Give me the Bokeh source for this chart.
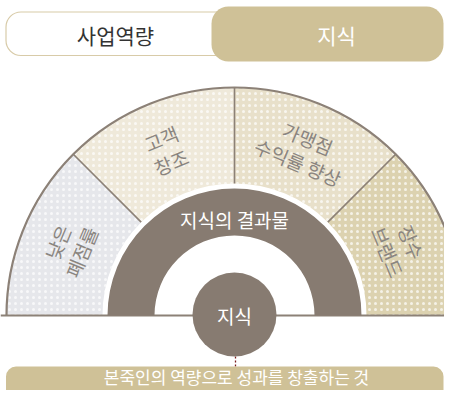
import numpy as np
from bokeh.plotting import figure
from bokeh.models import Range1d
from bokeh.core.properties import value
from bokeh.embed import file_html
from bokeh.resources import INLINE

# ---- data ----
tabs = ["사업역량", "지식"]
segments = ["낮은\n폐점률", "고객\n창조", "가맹점\n수익률 향상", "장수\n브랜드"]
ring_label = "지식의 결과물"
core_label = "지식"
definition = "본죽인의 역량으로 성과를 창출하는 것"

# ---- styles ----
FONT = value("Noto Sans CJK KR")
GOLD = "#cfc197"
SEG_COLORS = ["#e6e7eb", "#efe9da", "#e8e0ca", "#dcd2b0"]
EDGE = "#8c8177"
DARK = "#877b71"
LABEL = "#8a8580"

W, H = 444, 390
p = figure(width=W, height=H, output_backend="svg", toolbar_location=None,
           x_range=Range1d(0, W), y_range=Range1d(0, H), min_border=0)
p.axis.visible = False
p.grid.visible = False
p.outline_line_color = None
p.background_fill_color = "white"


def sy(y):
    return H - y


# ---- tabs ----
p.quad(left=5.5, right=236, top=sy(11.5), bottom=sy(55), fill_color="white",
       line_color="#d8cba8", line_width=1.2, border_radius=15)
p.quad(left=211, right=443, top=sy(6), bottom=sy(61), fill_color=GOLD,
       line_color=None, border_radius=17)
p.text(x=[115, 336], y=[sy(34), sy(34)], text=tabs, text_font=FONT,
       text_font_size="21px", text_color=["#333333", "white"],
       text_align="center", text_baseline="middle")

# ---- segment ring ----
cx, cy = 234, sy(315)
R_OUT, R_IN = 228, 132
n = len(segments)
step = 180 / n
starts = np.array([180 - (i + 1) * step for i in range(n)])
ends = starts + step
mids = (starts + ends) / 2

p.annular_wedge(x=cx, y=cy, inner_radius=R_IN, outer_radius=R_OUT,
                start_angle=starts, end_angle=ends, start_angle_units="deg",
                end_angle_units="deg", fill_color=SEG_COLORS, line_color=None,
                hatch_pattern="dot", hatch_color="white", hatch_alpha=0.7,
                hatch_scale=6, hatch_weight=1.0)

div = np.radians(ends[1:])
p.segment(x0=cx + R_IN * np.cos(div), y0=cy + R_IN * np.sin(div),
          x1=cx + R_OUT * np.cos(div), y1=cy + R_OUT * np.sin(div),
          line_color=EDGE, line_width=1.6)
p.arc(x=cx, y=cy, radius=R_OUT, start_angle=0, end_angle=np.pi,
      line_color=EDGE, line_width=2.2)
p.segment(x0=0, y0=cy, x1=470, y1=cy, line_color=EDGE, line_width=2)

R_LAB = 179
rm = np.radians(mids)
p.text(x=cx + R_LAB * np.cos(rm), y=cy + R_LAB * np.sin(rm), text=segments,
       angle=mids - 90, angle_units="deg", text_font=FONT,
       text_font_size="19px", text_color=LABEL, text_align="center",
       text_baseline="middle", text_line_height=0.95)

# ---- dark ring ----
p.annular_wedge(x=cx, y=cy, inner_radius=80, outer_radius=127, start_angle=0,
                end_angle=np.pi, fill_color=DARK, line_color=None)
p.text(x=[cx], y=[sy(219)], text=[ring_label], text_font=FONT,
       text_font_size="19px", text_color="white", text_align="center",
       text_baseline="middle")

# ---- core circle ----
p.segment(x0=235, y0=sy(356), x1=235, y1=sy(367), line_color="#7b1c1c",
          line_width=1.3, line_dash="2 2")
p.circle(x=cx, y=sy(314), radius=42, fill_color=DARK, line_color=None)
p.text(x=[cx], y=[sy(315)], text=[core_label], text_font=FONT,
       text_font_size="19px", text_color="white", text_align="center",
       text_baseline="middle")

# ---- definition bar ----
p.quad(left=5.5, right=443, top=sy(366), bottom=sy(400), fill_color=GOLD,
       line_color=None, border_radius=10)
p.text(x=[236], y=[sy(376)], text=[definition], text_font=FONT,
       text_font_size="17px", text_color="white", text_align="center",
       text_baseline="middle")

open("out.html", "w").write(file_html(p, INLINE))
